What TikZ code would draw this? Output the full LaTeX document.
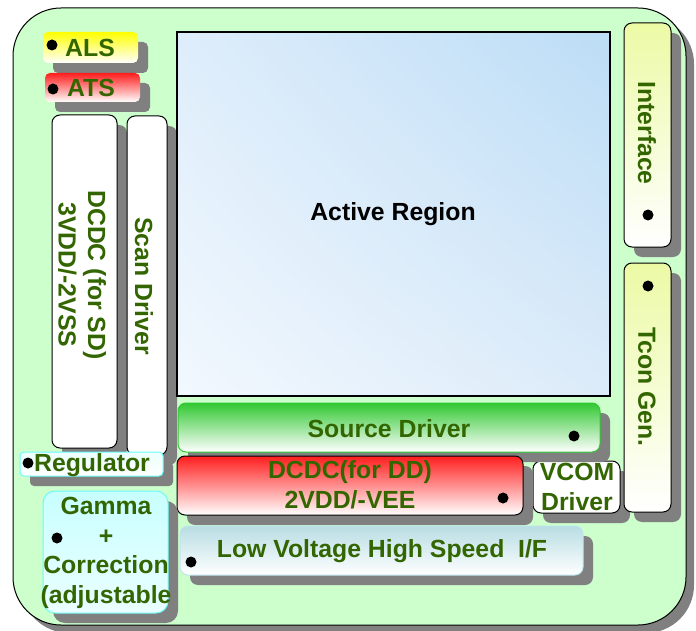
\documentclass[tikz,border=0pt]{standalone}
\usepackage{fontspec}
\setmainfont{Liberation Sans}
\usetikzlibrary{shadows,shadings}
\definecolor{txtgreen}{RGB}{51,102,0}
\definecolor{framegreen}{RGB}{204,255,204}
\definecolor{shadowgrey}{RGB}{128,128,128}
\definecolor{alsyellow}{RGB}{255,255,0}
\definecolor{atsred}{RGB}{255,30,30}
\definecolor{ifyellow}{RGB}{236,250,165}
\definecolor{srcgreen}{RGB}{50,200,50}
\definecolor{lvblue}{RGB}{184,221,227}
\definecolor{lvborder}{RGB}{190,228,236}
\definecolor{cyanborder}{RGB}{110,250,250}
\definecolor{cyanfill}{RGB}{200,255,255}
\definecolor{cyanlight}{RGB}{235,255,255}
\definecolor{arA}{RGB}{222,237,251}
\definecolor{arB}{RGB}{188,221,246}
\definecolor{arC}{RGB}{242,248,254}
\definecolor{arD}{RGB}{220,235,249}
\tikzset{
  boxshadow/.style={drop shadow={shadow xshift=10pt,shadow yshift=-10pt,fill=shadowgrey,opacity=1}},
  box/.style={rectangle,rounded corners=8pt,inner sep=0pt,boxshadow},
  lbl/.style={text=txtgreen,font=\fontsize{24.8}{29.5}\selectfont\bfseries,align=center,inner sep=0pt},
  dot/.style={circle,fill=black,inner sep=0pt,minimum size=11pt}
}
\begin{document}
\begin{tikzpicture}[x=1pt,y=-1pt]
\useasboundingbox (0,0) rectangle (696,631);
% outer frame
\node[rectangle,draw=black,line width=1pt,fill=framegreen,rounded corners=48pt,inner sep=0pt,
  minimum width=673pt,minimum height=617pt,
  drop shadow={shadow xshift=8pt,shadow yshift=-8pt,fill=shadowgrey,opacity=1}] (frame) at (349.5,316.5) {};
% ALS / ATS
\node[box,rounded corners=5pt,top color=alsyellow,bottom color=white,minimum width=95pt,minimum height=31pt] (als) at (90.5,47.5) {};
\node[lbl] (alst) at (90,48) {ALS};
\node[dot] (alsd) at (52,45) {};
\node[box,rounded corners=5pt,top color=atsred,bottom color=white,minimum width=95pt,minimum height=29pt] (ats) at (92.5,87.5) {};
\node[lbl] (atst) at (91,88) {ATS};
\node[dot] (atsd) at (53,89) {};
% DCDC for SD
\node[box,draw=black,fill=white,line width=1pt,minimum width=65pt,minimum height=333pt] (dcsd) at (84.5,281.5) {};
\node[lbl,rotate=-90] (dcsdt) at (82,275) {DCDC (for SD)\\3VDD/-2VSS};
% Scan driver
\node[box,draw=black,fill=white,line width=1pt,minimum width=40pt,minimum height=339pt] (scan) at (147,285.5) {};
\node[lbl,rotate=-90] (scant) at (144,286) {Scan Driver};
% Active region
\node[rectangle,draw=black,line width=1.5pt,upper left=arA,upper right=arB,lower left=arC,lower right=arD,
  inner sep=0pt,minimum width=433pt,minimum height=364pt] (active) at (393.5,214) {};
\node[lbl,text=black] (activet) at (393,214) {Active Region};
% Interface
\node[box,draw=black,line width=1pt,top color=ifyellow,bottom color=white,minimum width=47pt,minimum height=224pt] (iface) at (647.5,135) {};
\node[lbl,rotate=-90] (ifacet) at (647,133) {Interface};
\node[dot] (ifaced) at (648,215) {};
% VCOM
\node[box,draw=black,fill=white,line width=1pt,minimum width=87pt,minimum height=52pt] (vcom) at (576.5,487) {};
\node[lbl] (vcomt) at (577,487) {VCOM\\Driver};
% Tcon
\node[box,draw=black,line width=1pt,top color=ifyellow,bottom color=white,minimum width=47pt,minimum height=249pt] (tcon) at (647.5,387.5) {};
\node[lbl,rotate=-90] (tcont) at (647,387) {Tcon Gen.};
\node[dot] (tcond) at (648,286) {};
% Regulator
\node[box,rounded corners=4pt,draw=cyanborder,line width=1pt,top color=cyanlight,bottom color=white,minimum width=143pt,minimum height=24pt] (reg) at (91.5,464) {};
\node[lbl] (regt) at (92,465) {Regulator};
\node[dot] (regd) at (28,463) {};
% Source driver
\node[box,draw=srcgreen,line width=1pt,top color=srcgreen,bottom color=white,minimum width=422pt,minimum height=49pt] (src) at (389,427.5) {};
\node[lbl] (srct) at (389,429) {Source Driver};
\node[dot] (srcd) at (574,436) {};
% DCDC for DD
\node[box,draw=black,line width=1pt,top color=atsred,bottom color=white,minimum width=346pt,minimum height=59pt] (dcdd) at (350,485.5) {};
\node[lbl] (dcddt) at (350,485) {DCDC(for DD)\\2VDD/-VEE};
\node[dot] (dcddd) at (503,498) {};
% Low voltage I/F
\node[box,draw=lvborder,line width=1pt,top color=lvblue,bottom color=white,minimum width=403pt,minimum height=49pt] (lv) at (381.5,550.5) {};
\node[lbl] (lvt) at (382,551) {Low Voltage High Speed\ \ I/F};
\node[dot] (lvd) at (191,562) {};
% Gamma
\node[box,rounded corners=12pt,draw=cyanborder,line width=1pt,top color=cyanfill,bottom color=cyanlight,minimum width=125pt,minimum height=122pt] (gamma) at (105.5,552) {};
\node[lbl] (gammat) at (106,553) {Gamma\\+\\Correction\\(adjustable};
\node[dot] (gammad) at (57,538) {};
\end{tikzpicture}
\end{document}
